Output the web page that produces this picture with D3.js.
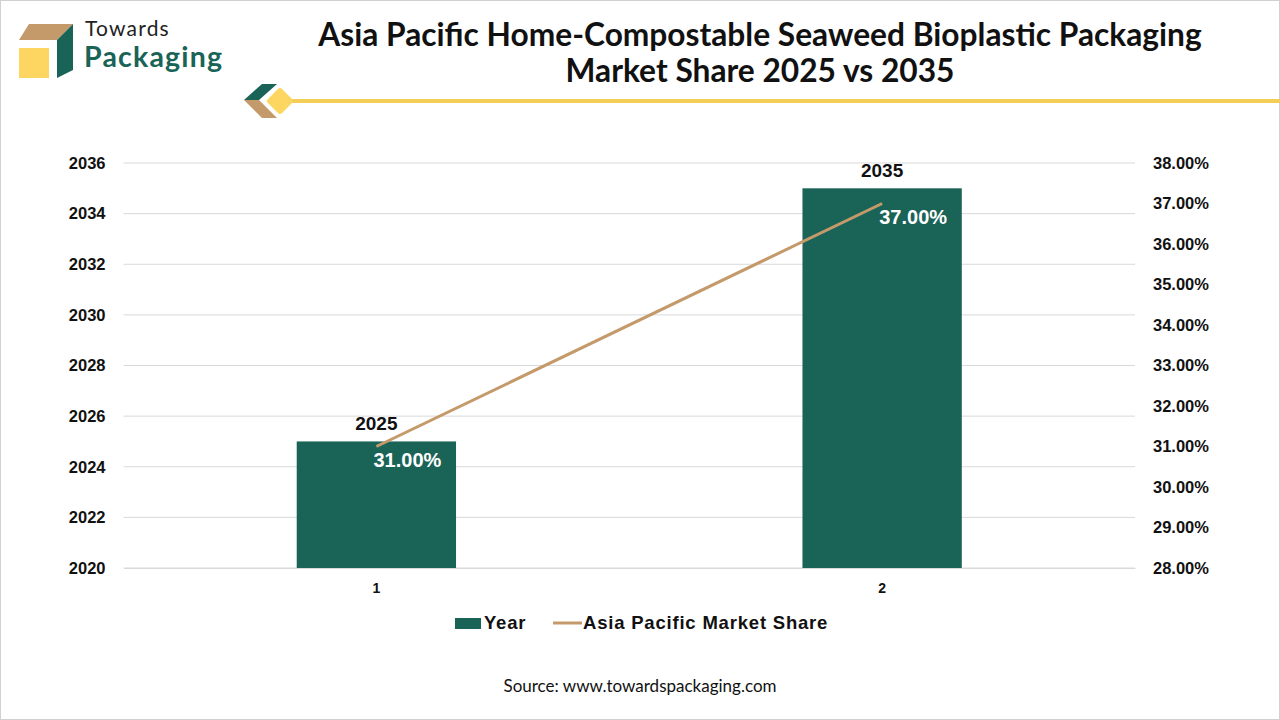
<!DOCTYPE html>
<html><head><meta charset="utf-8">
<script src="https://cdn.jsdelivr.net/npm/d3@7"></script>
<style>
html,body{margin:0;padding:0;background:#fff;}
svg{display:block;}
</style></head>
<body>
<svg id="chart" width="1280" height="720"></svg>
<script>
// ---- data ----
const categories = ["1", "2"];
const yearValues = [2025, 2035];
const shareValues = [31, 37];
const leftTicks = [2020, 2022, 2024, 2026, 2028, 2030, 2032, 2034, 2036];
const rightTicks = [28, 29, 30, 31, 32, 33, 34, 35, 36, 37, 38];
const titleLines = ["Asia Pacific Home-Compostable Seaweed Bioplastic Packaging", "Market Share 2025 vs 2035"];
const legendLabels = ["Year", "Asia Pacific Market Share"];
const sourceText = "Source: www.towardspackaging.com";

const W = 1280, H = 720;
const plot = {left: 123.5, right: 1135, top: 163, bottom: 568};
const BAR = "#1a6357", LINE = "#c49a6b", GRID = "#d9d9d9";
const AX_FONT = "'Liberation Sans', Arial, sans-serif";
const TITLE_FONT = "Lato, 'Open Sans', sans-serif";

const svg = d3.select("#chart");

// border
svg.append("rect").attr("x", 0.5).attr("y", 0.5).attr("width", W - 1).attr("height", H - 1)
  .attr("fill", "#fff").attr("stroke", "#d0d0d0");

// ---- logo ----
const logo = svg.append("g");
logo.append("polygon").attr("points", "19,40 29,24 73,24 57,40").attr("fill", "#c49a6b");
logo.append("polygon").attr("points", "57,40 73,24 73,70 57,78").attr("fill", "#1a6357");
logo.append("rect").attr("x", 19).attr("y", 48).attr("width", 30).attr("height", 30).attr("fill", "#fcd660");
logo.append("text").attr("x", 85).attr("y", 36).attr("font-family", "Lato, 'Open Sans', sans-serif")
  .attr("font-size", 21).attr("letter-spacing", 1.2).attr("fill", "#222").text("Towards");
logo.append("text").attr("x", 84).attr("y", 67).attr("font-family", "Lato, 'Open Sans', sans-serif")
  .attr("font-weight", 700).attr("font-size", 28.5).attr("letter-spacing", 1.2).attr("fill", "#1a6357").text("Packaging");

// decorative divider
const deco = svg.append("g");
deco.append("line").attr("x1", 290).attr("x2", W).attr("y1", 101).attr("y2", 101)
  .attr("stroke", "#f3cf58").attr("stroke-width", 4);
deco.append("polygon").attr("points", "244,100 262,84 277,84 259,100").attr("fill", "#1a6357");
deco.append("polygon").attr("points", "244,100 259,100 277,118 262,118").attr("fill", "#c49a6b");
deco.append("rect").attr("x", 270).attr("y", 91).attr("width", 20).attr("height", 20).attr("rx", 3)
  .attr("transform", "rotate(45 280 101)").attr("fill", "#fcd660");

// title
svg.append("g").selectAll("text").data(titleLines).join("text")
  .attr("x", 760).attr("y", (d, i) => 46 + i * 36)
  .attr("text-anchor", "middle").attr("font-family", TITLE_FONT).attr("font-weight", 700)
  .attr("font-size", 31.7).attr("fill", "#111").text(d => d);

// ---- scales ----
const x = d3.scaleBand().domain(categories).range([plot.left, plot.right]).paddingInner(0.685).paddingOuter(0.3425);
const yL = d3.scaleLinear().domain([2020, 2036]).range([plot.bottom, plot.top]);
const yR = d3.scaleLinear().domain([28, 38]).range([plot.bottom, plot.top]);

// gridlines
svg.append("g").selectAll("line").data(leftTicks).join("line")
  .attr("x1", plot.left).attr("x2", plot.right)
  .attr("y1", d => yL(d)).attr("y2", d => yL(d))
  .attr("stroke", GRID).attr("stroke-width", 1);

// left axis
const axL = svg.append("g").attr("transform", `translate(${plot.left - 18},0)`)
  .call(d3.axisLeft(yL).tickValues(leftTicks).tickFormat(d3.format("d")).tickSize(0).tickPadding(0));
axL.select(".domain").remove();
axL.selectAll("text").attr("font-family", AX_FONT).attr("font-weight", 700).attr("font-size", 16.5).attr("fill", "#111");

// right axis
const axR = svg.append("g").attr("transform", `translate(${plot.right + 18},0)`)
  .call(d3.axisRight(yR).tickValues(rightTicks).tickFormat(d => d3.format(".2f")(d) + "%").tickSize(0).tickPadding(0));
axR.select(".domain").remove();
axR.selectAll("text").attr("font-family", AX_FONT).attr("font-weight", 700).attr("font-size", 16.5).attr("fill", "#111");

// bottom axis
const axB = svg.append("g").attr("transform", `translate(0,${plot.bottom})`)
  .call(d3.axisBottom(x).tickSize(0).tickPadding(15));
axB.select(".domain").attr("stroke", GRID);
axB.selectAll("text").attr("font-family", AX_FONT).attr("font-weight", 700).attr("font-size", 14).attr("fill", "#111");

// bars
const data = categories.map((c, i) => ({c, year: yearValues[i], share: shareValues[i]}));
svg.append("g").selectAll("rect").data(data).join("rect")
  .attr("x", d => x(d.c)).attr("width", x.bandwidth())
  .attr("y", d => yL(d.year)).attr("height", d => yL(2020) - yL(d.year))
  .attr("fill", BAR);

// bar labels
svg.append("g").selectAll("text").data(data).join("text")
  .attr("x", d => x(d.c) + x.bandwidth() / 2).attr("y", d => yL(d.year) - 11)
  .attr("text-anchor", "middle").attr("font-family", AX_FONT).attr("font-weight", 700)
  .attr("font-size", 19).attr("fill", "#111").text(d => d.year);

// line
const cx = d => x(d.c) + x.bandwidth() / 2;
svg.append("path").datum(data)
  .attr("d", d3.line().x(cx).y(d => yR(d.share)))
  .attr("fill", "none").attr("stroke", LINE).attr("stroke-width", 3);

// line labels
svg.append("g").selectAll("text").data(data).join("text")
  .attr("x", d => cx(d) + 31).attr("y", d => yR(d.share) + 20)
  .attr("text-anchor", "middle").attr("font-family", AX_FONT).attr("font-weight", 700)
  .attr("font-size", 20).attr("fill", "#fff").text(d => d3.format(".2f")(d.share) + "%");

// legend
const lg = svg.append("g");
lg.append("rect").attr("x", 455).attr("y", 618).attr("width", 26).attr("height", 11).attr("fill", BAR);
lg.append("text").attr("x", 484).attr("y", 629).attr("font-family", AX_FONT).attr("font-weight", 700)
  .attr("font-size", 18.5).attr("letter-spacing", 0.8).attr("fill", "#111").text(legendLabels[0]);
lg.append("line").attr("x1", 553).attr("x2", 582).attr("y1", 623).attr("y2", 623)
  .attr("stroke", LINE).attr("stroke-width", 3);
lg.append("text").attr("x", 583).attr("y", 629).attr("font-family", AX_FONT).attr("font-weight", 700)
  .attr("font-size", 18.5).attr("letter-spacing", 0.8).attr("fill", "#111").text(legendLabels[1]);

// source
svg.append("text").attr("x", 640).attr("y", 692).attr("text-anchor", "middle")
  .attr("font-family", "Lato, 'Open Sans', sans-serif").attr("font-size", 17).attr("fill", "#111")
  .text(sourceText);
</script>
</body></html>
